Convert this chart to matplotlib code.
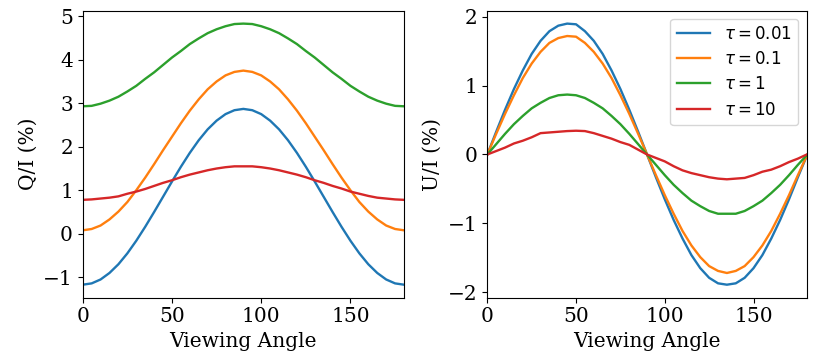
import numpy as np
import matplotlib
matplotlib.use("Agg")
import matplotlib.pyplot as plt

# viewing angle grid (degrees)
angles = np.arange(0, 181, 5)

tau_labels = [r"$\tau = 0.01$", r"$\tau = 0.1$", r"$\tau = 1$", r"$\tau = 10$"]
colors = ["tab:blue", "tab:orange", "tab:green", "tab:red"]

# Q/I (%)
q_tau001 = [-1.17, -1.14, -1.05, -0.90, -0.70, -0.45, -0.16, 0.16, 0.50, 0.85,
            1.20, 1.54, 1.86, 2.15, 2.40, 2.60, 2.75, 2.84, 2.87,
            2.84, 2.75, 2.60, 2.40, 2.15, 1.86, 1.54, 1.20, 0.85,
            0.50, 0.16, -0.16, -0.45, -0.70, -0.90, -1.05, -1.14, -1.17]
q_tau01 = [0.08, 0.11, 0.19, 0.33, 0.51, 0.73, 1.00, 1.29, 1.60, 1.92,
           2.23, 2.54, 2.83, 3.09, 3.32, 3.50, 3.64, 3.72, 3.75,
           3.72, 3.64, 3.50, 3.32, 3.09, 2.83, 2.54, 2.23, 1.92,
           1.60, 1.29, 1.00, 0.73, 0.51, 0.33, 0.19, 0.11, 0.08]
q_tau1 = [2.93, 2.94, 2.99, 3.06, 3.15, 3.27, 3.40, 3.56, 3.71, 3.88,
          4.05, 4.20, 4.36, 4.49, 4.61, 4.70, 4.77, 4.82, 4.83,
          4.82, 4.77, 4.70, 4.61, 4.49, 4.36, 4.20, 4.05, 3.88,
          3.71, 3.56, 3.40, 3.27, 3.15, 3.06, 2.99, 2.94, 2.93]
q_tau10 = [0.78, 0.79, 0.81, 0.83, 0.86, 0.92, 0.97, 1.03, 1.10, 1.17,
           1.23, 1.30, 1.36, 1.41, 1.46, 1.50, 1.53, 1.55, 1.55,
           1.55, 1.53, 1.50, 1.46, 1.41, 1.36, 1.30, 1.23, 1.17,
           1.10, 1.04, 0.97, 0.92, 0.87, 0.83, 0.81, 0.79, 0.78]

# U/I (%)
u_tau001 = [0.00, 0.33, 0.65, 0.95, 1.22, 1.46, 1.65, 1.79, 1.87, 1.90,
            1.89, 1.79, 1.65, 1.46, 1.22, 0.95, 0.65, 0.33, 0.00,
            -0.33, -0.65, -0.95, -1.22, -1.46, -1.65, -1.79, -1.87, -1.89,
            -1.87, -1.79, -1.65, -1.46, -1.22, -0.95, -0.65, -0.33, -0.02]
u_tau01 = [0.00, 0.30, 0.59, 0.86, 1.11, 1.32, 1.49, 1.62, 1.69, 1.72,
           1.71, 1.62, 1.49, 1.32, 1.11, 0.86, 0.59, 0.30, 0.00,
           -0.30, -0.59, -0.86, -1.11, -1.32, -1.49, -1.62, -1.69, -1.72,
           -1.69, -1.62, -1.49, -1.32, -1.11, -0.86, -0.59, -0.30, -0.02]
u_tau1 = [0.00, 0.15, 0.30, 0.44, 0.56, 0.67, 0.75, 0.82, 0.86, 0.87,
          0.86, 0.82, 0.75, 0.67, 0.56, 0.44, 0.30, 0.15, 0.00,
          -0.15, -0.30, -0.44, -0.56, -0.67, -0.75, -0.82, -0.86, -0.86,
          -0.86, -0.82, -0.75, -0.67, -0.56, -0.44, -0.30, -0.15, -0.01]
u_tau10 = [0.00, 0.05, 0.10, 0.16, 0.20, 0.25, 0.31, 0.32, 0.33, 0.34,
           0.345, 0.34, 0.31, 0.27, 0.23, 0.18, 0.14, 0.07, 0.00,
           -0.05, -0.10, -0.17, -0.23, -0.27, -0.30, -0.33, -0.35, -0.36,
           -0.35, -0.34, -0.30, -0.25, -0.22, -0.17, -0.11, -0.06, 0.00]

q_series = [q_tau001, q_tau01, q_tau1, q_tau10]
u_series = [u_tau001, u_tau01, u_tau1, u_tau10]

plt.rcParams["font.family"] = "serif"
plt.rcParams["font.size"] = 14.5

fig = plt.figure(figsize=(8.33, 3.64), dpi=100)
ax_q = fig.add_axes([0.0993, 0.182, 0.3857, 0.789])
ax_u = fig.add_axes([0.585, 0.182, 0.3835, 0.789])

for vals, c, lab in zip(q_series, colors, tau_labels):
    ax_q.plot(angles, vals, color=c, label=lab, linewidth=1.7)
for vals, c, lab in zip(u_series, colors, tau_labels):
    ax_u.plot(angles, vals, color=c, label=lab, linewidth=1.7)

for ax in (ax_q, ax_u):
    ax.set_xlim(0, 180)
    ax.set_xlabel("Viewing Angle")
    ax.set_xticks([0, 50, 100, 150])

ax_q.set_yticks([-1, 0, 1, 2, 3, 4, 5])
ax_u.set_yticks([-2, -1, 0, 1, 2])
ax_q.set_ylabel("Q/I (%)")
ax_u.set_ylabel("U/I (%)")

ax_u.legend(loc="upper right", fontsize=12)

fig.savefig("out.png", dpi=100)
